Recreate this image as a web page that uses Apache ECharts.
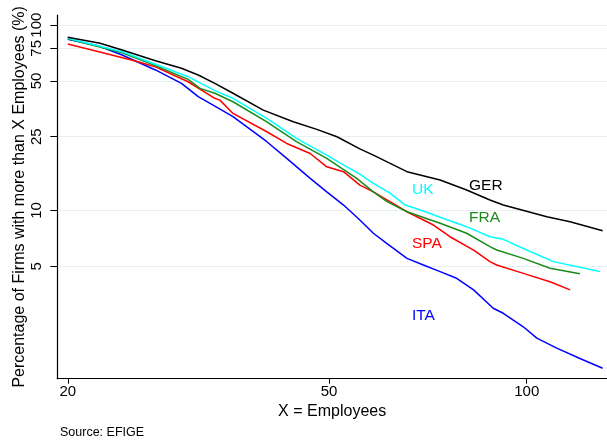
<!DOCTYPE html>
<html>
<head>
<meta charset="utf-8">
<script src="https://cdn.jsdelivr.net/npm/echarts@6/dist/echarts.min.js"></script>
<style>
html,body{margin:0;padding:0;background:#fff;}
#c{width:607px;height:441px;}
</style>
</head>
<body>
<div id="c"></div>
<script>
// ---- data (X = employees, Y = % of firms) ----
const xTicks = [20, 50, 100];
const yTicks = [5, 10, 25, 50, 75, 100];

const gerX = [20, 22.4, 24.2, 27.2, 29.8, 31.6, 33.5, 35.7, 39.7, 44.1, 47.9, 51.4, 55.7, 58.4, 65.7, 73.8, 81.0, 87.9, 92.1, 107.3, 116.4, 130.5];
const gerY = [85.9, 79.8, 73.4, 64.3, 58.5, 53.8, 48.5, 42.9, 34.8, 30.1, 27.4, 25.0, 21.5, 19.9, 16.2, 14.6, 12.9, 11.4, 10.7, 9.26, 8.70, 7.78];

const ukX = [20, 24.2, 27.2, 30.5, 33.5, 35.7, 40.2, 44.6, 49.6, 52.0, 55.7, 58.4, 61.9, 65.3, 69.6, 73.8, 81.0, 87.9, 92.1, 100, 109.8, 120.5, 129.3];
const ukY = [84.9, 71.9, 61.5, 52.7, 44.3, 40.3, 31.4, 24.5, 19.9, 18.0, 15.7, 14.0, 12.4, 10.7, 9.94, 9.19, 8.18, 7.22, 6.99, 6.12, 5.30, 4.94, 4.68];

const fraX = [20, 24.2, 27.2, 30.5, 31.8, 33.5, 35.7, 40.2, 44.6, 49.6, 52.0, 55.1, 58.4, 61.2, 65.7, 73.8, 81.0, 87.9, 90.0, 98.8, 108.5, 120.5];
const fraY = [84.5, 71.0, 60.5, 51.0, 45.6, 42.9, 38.6, 30.1, 23.5, 19.1, 17.1, 14.9, 12.6, 11.2, 9.85, 8.53, 7.54, 6.38, 6.12, 5.52, 4.88, 4.56];

const spaX = [20, 22.3, 25.0, 27.2, 30.5, 33.5, 34.1, 35.7, 40.2, 43.1, 46.8, 49.6, 52.6, 55.7, 58.4, 65.7, 72.1, 76.4, 83.0, 87.9, 90.0, 98.8, 108.5, 116.4];
const spaY = [79.1, 71.9, 64.8, 59.6, 49.5, 40.3, 39.4, 33.4, 26.6, 23.0, 20.3, 17.2, 16.2, 13.7, 12.6, 9.85, 8.35, 7.22, 6.12, 5.30, 5.08, 4.58, 4.13, 3.73];

const itaX = [20, 22.3, 24.2, 27.2, 29.8, 31.6, 33.5, 35.7, 40.2, 43.1, 46.8, 49.6, 52.6, 55.7, 58.4, 61.2, 65.7, 69.6, 73.8, 78.2, 83.0, 88.9, 92.1, 98.8, 103.6, 111.1, 120.5, 130.5];
const itaY = [83.8, 77.2, 69.0, 57.3, 48.5, 41.1, 36.6, 32.1, 23.5, 19.1, 14.9, 12.6, 10.7, 8.89, 7.54, 6.65, 5.52, 5.08, 4.68, 4.31, 3.73, 2.97, 2.79, 2.36, 2.05, 1.81, 1.59, 1.41];

const countries = ['GER', 'UK', 'FRA', 'SPA', 'ITA'];
// --------------------------------------------------------------------

const FONT = '"Liberation Sans", Arial, Helvetica, sans-serif';
const colors = { GER: '#000000', UK: '#00ffff', FRA: '#1a8a1a', SPA: '#ff0000', ITA: '#0000ff' };
const seriesData = {
  GER: gerX.map((x, i) => [x, gerY[i]]),
  UK: ukX.map((x, i) => [x, ukY[i]]),
  FRA: fraX.map((x, i) => [x, fraY[i]]),
  SPA: spaX.map((x, i) => [x, spaY[i]]),
  ITA: itaX.map((x, i) => [x, itaY[i]])
};
const drawOrder = ['ITA', 'SPA', 'FRA', 'UK', 'GER'];

const chart = echarts.init(document.getElementById('c'), null, { renderer: 'canvas' });
chart.setOption({
  animation: false,
  backgroundColor: '#ffffff',
  textStyle: { fontFamily: FONT },
  grid: { left: 57.3, right: 0, top: 15, bottom: 62.3, containLabel: false },
  xAxis: {
    type: 'log', logBase: 10, min: 19.28, max: 132.5,
    name: 'X = Employees', nameLocation: 'middle', nameGap: 25, nameMoveOverlap: false,
    nameTextStyle: { fontSize: 16, color: '#000', fontFamily: FONT },
    axisLine: { show: true, lineStyle: { color: '#000', width: 1.2 } },
    axisTick: { show: true, length: 5, customValues: xTicks, lineStyle: { color: '#000', width: 1 } },
    axisLabel: { show: true, customValues: xTicks, margin: 6, fontSize: 15, color: '#000', fontFamily: FONT, hideOverlap: false },
    splitLine: { show: false },
    minorTick: { show: false }, minorSplitLine: { show: false }
  },
  yAxis: {
    type: 'log', logBase: 10, min: 1.238, max: 113.4,
    name: 'Percentage of Firms with more than X Employees (%)', nameLocation: 'middle', nameGap: 30, nameMoveOverlap: false,
    nameTextStyle: { fontSize: 16, color: '#000', fontFamily: FONT },
    axisLine: { show: true, lineStyle: { color: '#000', width: 1.2 } },
    axisTick: { show: true, length: 7, customValues: yTicks, lineStyle: { color: '#000', width: 1 } },
    axisLabel: { show: true, customValues: yTicks, rotate: 90, margin: 13, fontSize: 15, color: '#000', fontFamily: FONT, hideOverlap: false },
    splitLine: { show: true, customValues: yTicks, lineStyle: { color: '#e6eff1', width: 1.2 } },
    minorTick: { show: false }, minorSplitLine: { show: false }
  },
  series: drawOrder.map(c => ({
    name: c, type: 'line', data: seriesData[c], showSymbol: false, symbol: 'none',
    smooth: false, lineStyle: { color: colors[c], width: 1.5 }, z: 2
  })),
  graphic: [
    { type: 'text', left: 469, top: 178, style: { text: 'GER', fill: colors.GER, font: '15.5px ' + FONT } },
    { type: 'text', left: 412, top: 182, style: { text: 'UK', fill: colors.UK, font: '15.5px ' + FONT } },
    { type: 'text', left: 469, top: 210, style: { text: 'FRA', fill: colors.FRA, font: '15.5px ' + FONT } },
    { type: 'text', left: 412, top: 236, style: { text: 'SPA', fill: colors.SPA, font: '15.5px ' + FONT } },
    { type: 'text', left: 412, top: 308, style: { text: 'ITA', fill: colors.ITA, font: '15.5px ' + FONT } },
    { type: 'text', left: 60, top: 426, style: { text: 'Source: EFIGE', fill: '#000', font: '12.5px ' + FONT } }
  ]
});
</script>
</body>
</html>
